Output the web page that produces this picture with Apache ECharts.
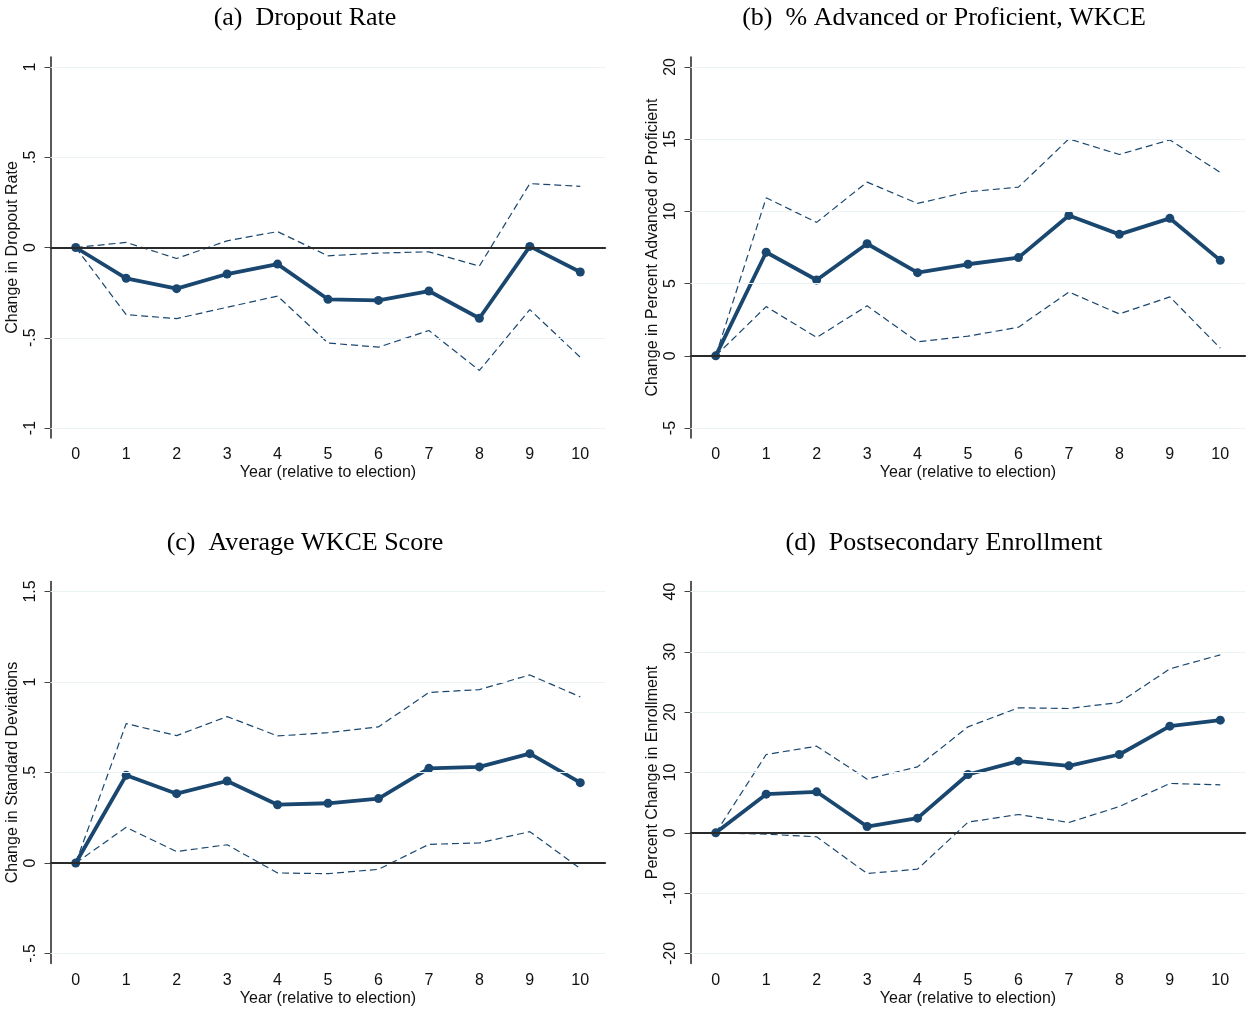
<!DOCTYPE html>
<html>
<head>
<meta charset="utf-8">
<script src="https://cdn.jsdelivr.net/npm/echarts@6/dist/echarts.min.js"></script>
<style>
  html, body { margin: 0; padding: 0; background: #fff; }
  #main { width: 1249px; height: 1009px; }
</style>
</head>
<body>
<div id="main"></div>
<script>
// years since election
const years = ['0', '1', '2', '3', '4', '5', '6', '7', '8', '9', '10']

// (a) dropout rate
const dropoutEst = [0, -0.171, -0.228, -0.147, -0.092, -0.287, -0.293, -0.241, -0.392, 0.006, -0.136]
const dropoutHi = [0, 0.028, -0.061, 0.037, 0.088, -0.046, -0.031, -0.024, -0.103, 0.354, 0.339]
const dropoutLo = [0, -0.372, -0.394, -0.331, -0.269, -0.529, -0.552, -0.460, -0.681, -0.344, -0.608]
const dropoutTicks = [-1, -0.5, 0, 0.5, 1]

// (b) % advanced or proficient
const profEst = [0, 7.17, 5.25, 7.76, 5.76, 6.34, 6.80, 9.72, 8.41, 9.52, 6.61]
const profHi = [0, 10.94, 9.24, 12.03, 10.55, 11.36, 11.68, 15.02, 13.94, 14.95, 12.70]
const profLo = [0, 3.41, 1.27, 3.46, 0.97, 1.36, 1.98, 4.42, 2.90, 4.08, 0.53]
const profTicks = [-5, 0, 5, 10, 15, 20]

// (c) average wkce score
const scoreEst = [0, 0.485, 0.383, 0.453, 0.322, 0.330, 0.356, 0.523, 0.531, 0.604, 0.444]
const scoreHi = [0, 0.770, 0.704, 0.809, 0.702, 0.720, 0.752, 0.942, 0.958, 1.039, 0.918]
const scoreLo = [0, 0.197, 0.063, 0.101, -0.055, -0.059, -0.035, 0.103, 0.111, 0.173, -0.031]
const scoreTicks = [-0.5, 0, 0.5, 1, 1.5]

// (d) postsecondary enrollment
const enrollEst = [0, 6.41, 6.80, 1.05, 2.43, 9.67, 11.88, 11.10, 12.98, 17.68, 18.67]
const enrollHi = [0, 12.98, 14.36, 8.90, 10.94, 17.57, 20.72, 20.61, 21.60, 27.18, 29.50]
const enrollLo = [0, -0.22, -0.66, -6.74, -6.02, 1.77, 3.04, 1.71, 4.36, 8.18, 7.96]
const enrollTicks = [-20, -10, 0, 10, 20, 30, 40]

const panels = [
  { title: '(a)  Dropout Rate', yName: 'Change in Dropout Rate', ticks: dropoutTicks, est: dropoutEst, hi: dropoutHi, lo: dropoutLo },
  { title: '(b)  % Advanced or Proficient, WKCE', yName: 'Change in Percent Advanced or Proficient', ticks: profTicks, est: profEst, hi: profHi, lo: profLo },
  { title: '(c)  Average WKCE Score', yName: 'Change in Standard Deviations', ticks: scoreTicks, est: scoreEst, hi: scoreHi, lo: scoreLo },
  { title: '(d)  Postsecondary Enrollment', yName: 'Percent Change in Enrollment', ticks: enrollTicks, est: enrollEst, hi: enrollHi, lo: enrollLo }
]

const navy = '#1a476f'
const gridColor = '#eaf2f3'
const sans = 'Liberation Sans'

// stata style: .5 instead of 0.5
function fmt(v) {
  return String(v).replace(/^(-?)0\./, '$1.')
}

const pos = [
  { left: 50.5, top: 57, height: 381, cx: 300, ty: 0 },
  { left: 690.5, top: 57, height: 381, cx: 939, ty: 0 },
  { left: 50.5, top: 581.5, height: 382, cx: 300, ty: 525 },
  { left: 690.5, top: 581.5, height: 382, cx: 939, ty: 525 }
]

const title = [], grid = [], xAxis = [], yAxis = [], series = []

panels.forEach(function (p, i) {
  const g = pos[i]
  const span = p.ticks[p.ticks.length - 1] - p.ticks[0]
  const pad = span * 0.0276

  title.push({
    text: p.title,
    left: g.cx,
    top: g.ty,
    textAlign: 'center',
    textStyle: { fontFamily: 'Liberation Serif', fontWeight: 'normal', fontSize: 26, color: '#000' }
  })
  grid.push({ left: g.left, top: g.top, width: 555, height: g.height })
  xAxis.push({
    type: 'category',
    gridIndex: i,
    data: years,
    boundaryGap: true,
    name: 'Year (relative to election)',
    nameLocation: 'middle',
    nameGap: 27,
    nameTextStyle: { fontFamily: sans, fontSize: 16, color: '#111' },
    axisLine: { lineStyle: { color: '#444', width: 1.5 } },
    axisTick: { alignWithLabel: true, length: 6, lineStyle: { color: '#444' } },
    axisLabel: { fontFamily: sans, fontSize: 16, color: '#111', margin: 9 },
    splitLine: { show: false }
  })
  yAxis.push({
    type: 'value',
    gridIndex: i,
    min: p.ticks[0] - pad,
    max: p.ticks[p.ticks.length - 1] + pad,
    name: p.yName,
    nameLocation: 'middle',
    nameGap: 30,
    nameTextStyle: { fontFamily: sans, fontSize: 16, color: '#111' },
    axisLine: { show: true, lineStyle: { color: '#222', width: 1.5 } },
    axisTick: { show: true, length: 6, customValues: p.ticks, lineStyle: { color: '#444' } },
    axisLabel: { fontFamily: sans, fontSize: 16, color: '#111', rotate: 90, margin: 12, customValues: p.ticks, formatter: fmt },
    splitLine: { show: false }
  })

  const gridLines = p.ticks.filter(function (v) { return v !== 0 }).map(function (v) {
    return { yAxis: v, lineStyle: { color: gridColor, width: 1.2, type: 'solid' } }
  })
  gridLines.push({ yAxis: 0, lineStyle: { color: '#2a2a2a', width: 2, type: 'solid' } })

  series.push({
    type: 'line',
    xAxisIndex: i,
    yAxisIndex: i,
    data: p.lo,
    symbol: 'none',
    lineStyle: { color: navy, width: 1.2, type: [7, 4] },
    markLine: { silent: true, symbol: ['none', 'none'], label: { show: false }, data: gridLines },
    z: 1
  })
  series.push({
    type: 'line',
    xAxisIndex: i,
    yAxisIndex: i,
    data: p.hi,
    symbol: 'none',
    lineStyle: { color: navy, width: 1.2, type: [7, 4] },
    z: 2
  })
  series.push({
    type: 'line',
    xAxisIndex: i,
    yAxisIndex: i,
    data: p.est,
    symbol: 'circle',
    symbolSize: 9,
    showSymbol: true,
    itemStyle: { color: navy },
    lineStyle: { color: navy, width: 3.8 },
    z: 3
  })
})

const chart = echarts.init(document.getElementById('main'))
chart.setOption({
  backgroundColor: '#fff',
  animation: false,
  title: title,
  grid: grid,
  xAxis: xAxis,
  yAxis: yAxis,
  series: series
})
</script>
</body>
</html>
